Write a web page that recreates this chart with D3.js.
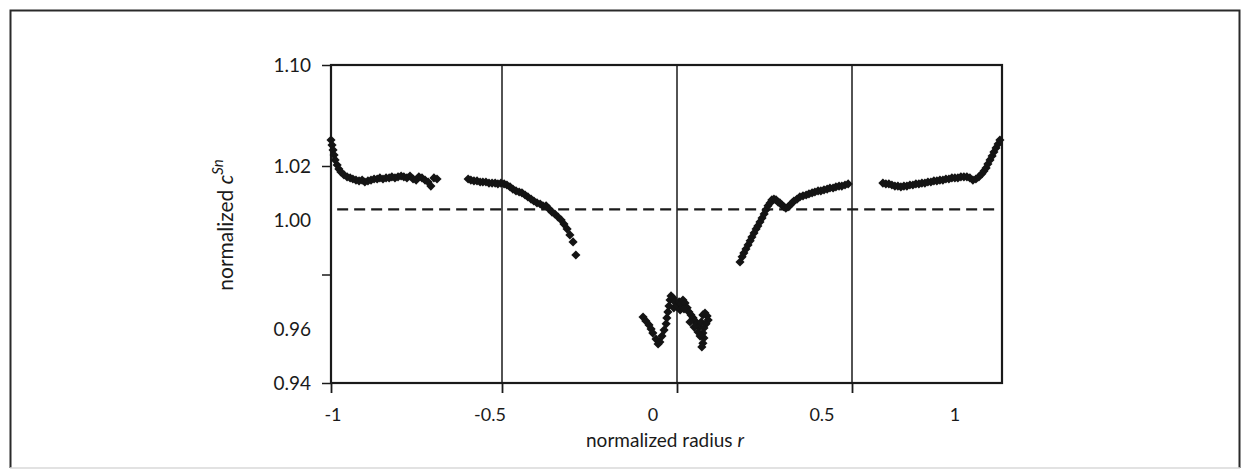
<!DOCTYPE html>
<html><head><meta charset="utf-8">
<script src="https://cdn.jsdelivr.net/npm/d3@7"></script>
<style>
body{margin:0;background:#fff;}
text{font-family:Lato,"Open Sans",sans-serif;fill:#1a1a1a;}
</style>
</head><body>
<svg id="chart" width="1248" height="474"></svg>
<script>
// ---- data ----
const xTicks = [-1, -0.5, 0, 0.5, 1];
const xTickLabels = ["-1", "-0.5", "0", "0.5", "1"];
const xGridValues = [-0.5, 0, 0.5];
const yTickMarks = [0.94, 0.98, 1.02, 1.10];
const yTickLabels = [0.94, 0.96, 1.00, 1.02, 1.10];
const yLabelText = ["0.94", "0.96", "1.00", "1.02", "1.10"];
const refValue = 1.004;
const refExtent = [-0.982, 0.993];

const r1 = [-1.000,-0.997,-0.994,-0.991,-0.988,-0.982,-0.977,-0.971,-0.962,-0.953,-0.944,-0.936,-0.927,-0.918,-0.909,-0.901,-0.892,-0.883,-0.874,-0.865,-0.857,-0.848,-0.839,-0.830,-0.822,-0.813,-0.804,-0.795,-0.787,-0.778,-0.769,-0.760,-0.751,-0.743,-0.734,-0.725,-0.716,-0.708,-0.699,-0.690];
const c1 = [1.0406,1.0366,1.0327,1.0287,1.0248,1.0208,1.0189,1.0178,1.0167,1.0160,1.0156,1.0152,1.0148,1.0145,1.0148,1.0141,1.0145,1.0148,1.0152,1.0152,1.0156,1.0152,1.0156,1.0156,1.0160,1.0156,1.0160,1.0163,1.0160,1.0156,1.0163,1.0152,1.0148,1.0160,1.0156,1.0148,1.0141,1.0126,1.0156,1.0152];

const r2 = [-0.599,-0.591,-0.582,-0.573,-0.564,-0.556,-0.547,-0.538,-0.529,-0.520,-0.512,-0.503,-0.494,-0.486,-0.477,-0.469,-0.460,-0.451,-0.443,-0.434,-0.426,-0.417,-0.409,-0.400,-0.391,-0.383,-0.374,-0.366,-0.357,-0.349,-0.340,-0.331,-0.323,-0.314,-0.306,-0.297,-0.289];
const c2 = [1.0152,1.0148,1.0145,1.0145,1.0141,1.0141,1.0141,1.0137,1.0137,1.0137,1.0134,1.0137,1.0134,1.0130,1.0123,1.0115,1.0108,1.0104,1.0101,1.0093,1.0086,1.0078,1.0071,1.0064,1.0060,1.0053,1.0053,1.0042,1.0030,1.0023,1.0012,1.0001,0.9986,0.9968,0.9946,0.9920,0.9872];

const r3 = [-0.097,-0.089,-0.080,-0.074,-0.069,-0.060,-0.054,-0.049,-0.043,-0.037,-0.031,-0.029,-0.026,-0.023,-0.020,-0.017,-0.011,-0.006,-0.009,0.000,0.006,0.011,0.017,0.023,0.029,0.034,0.040,0.046,0.051,0.057,0.063,0.069,0.074,0.080,0.086,0.089,0.083,0.077,0.074,0.077,0.074,0.071,0.037,0.049,0.060,0.066,0.009,0.020];
const c3 = [0.9643,0.9629,0.9614,0.9599,0.9584,0.9562,0.9544,0.9551,0.9573,0.9595,0.9618,0.9640,0.9662,0.9684,0.9706,0.9721,0.9713,0.9699,0.9677,0.9684,0.9699,0.9691,0.9706,0.9695,0.9677,0.9662,0.9651,0.9640,0.9629,0.9618,0.9606,0.9625,0.9651,0.9658,0.9647,0.9632,0.9618,0.9603,0.9584,0.9566,0.9547,0.9533,0.9625,0.9606,0.9588,0.9573,0.9669,0.9673];

const r4 = [0.180,0.186,0.191,0.197,0.203,0.209,0.214,0.220,0.226,0.231,0.237,0.243,0.249,0.254,0.260,0.266,0.271,0.277,0.283,0.289,0.294,0.300,0.306,0.311,0.317,0.323,0.329,0.334,0.343,0.351,0.360,0.369,0.377,0.386,0.394,0.403,0.411,0.420,0.429,0.437,0.446,0.454,0.463,0.471,0.480,0.489];
const c4 = [0.9846,0.9865,0.9879,0.9894,0.9909,0.9924,0.9938,0.9953,0.9968,0.9979,0.9994,1.0008,1.0023,1.0038,1.0053,1.0064,1.0075,1.0078,1.0075,1.0067,1.0064,1.0056,1.0049,1.0045,1.0049,1.0056,1.0064,1.0071,1.0078,1.0086,1.0090,1.0093,1.0097,1.0101,1.0104,1.0108,1.0108,1.0112,1.0115,1.0119,1.0119,1.0123,1.0126,1.0126,1.0130,1.0134];

const r5 = [0.603,0.613,0.623,0.633,0.643,0.653,0.663,0.673,0.683,0.693,0.703,0.713,0.723,0.733,0.743,0.753,0.763,0.773,0.783,0.793,0.803,0.813,0.823,0.833,0.843,0.853,0.863,0.873,0.883,0.893,0.903,0.913,0.923,0.933,0.940,0.947,0.953,0.960,0.967,0.973,0.980,0.987,0.993];
const c5 = [1.0137,1.0134,1.0134,1.0130,1.0126,1.0126,1.0123,1.0126,1.0126,1.0130,1.0130,1.0134,1.0134,1.0137,1.0137,1.0141,1.0141,1.0145,1.0145,1.0148,1.0148,1.0152,1.0152,1.0156,1.0156,1.0156,1.0160,1.0160,1.0160,1.0156,1.0148,1.0152,1.0160,1.0171,1.0182,1.0193,1.0216,1.0248,1.0279,1.0311,1.0343,1.0374,1.0406];

// ---- layout ----
const svg = d3.select("#chart");
const plotL = 331, plotR = 1002, plotT = 65, plotB = 383;
const ink = "#1a1a1a";

const x = d3.scaleLinear().domain(xTicks).range([plotL, 502, 677, 852, plotR]);
const xLabelPos = d3.scaleLinear().domain(xTicks).range([333, 490, 653, 822, 955]);
const y = d3.scaleLinear().domain([0.94, 1.02, 1.10]).range([plotB, 166, plotT]);

// outer frame
svg.append("path")
  .attr("d", `M10.5,468 L10.5,10.5 L1239.5,10.5 L1239.5,468`)
  .attr("fill", "none").attr("stroke", "#2a2a2a").attr("stroke-width", 2);
svg.append("line").attr("x1", 10).attr("x2", 1240).attr("y1", 468).attr("y2", 468)
  .attr("stroke", "#d8d8d8").attr("stroke-width", 1.5);

// gridlines
svg.append("g").selectAll("line").data(xGridValues).join("line")
  .attr("x1", d => x(d)).attr("x2", d => x(d))
  .attr("y1", plotT).attr("y2", plotB)
  .attr("stroke", ink).attr("stroke-width", 1.5);

// plot frame
svg.append("rect").attr("x", plotL).attr("y", plotT)
  .attr("width", plotR - plotL).attr("height", plotB - plotT)
  .attr("fill", "none").attr("stroke", ink).attr("stroke-width", 2.2);

// axes (tick marks only)
const yAxis = svg.append("g").attr("transform", `translate(${plotL},0)`)
  .call(d3.axisLeft(y).tickValues(yTickMarks).tickSize(9).tickFormat(""));
yAxis.select(".domain").remove();
yAxis.selectAll("line").attr("stroke", ink).attr("stroke-width", 1.5);

const xAxis = svg.append("g").attr("transform", `translate(0,${plotB})`)
  .call(d3.axisBottom(x).tickValues(xTicks.slice(0, 4)).tickSize(10).tickFormat(""));
xAxis.select(".domain").remove();
xAxis.selectAll("line").attr("stroke", ink).attr("stroke-width", 1.8);

// tick labels
svg.append("g").selectAll("text").data(yTickLabels).join("text")
  .attr("x", 311).attr("y", d => y(d)).attr("dy", "0.36em")
  .attr("text-anchor", "end").attr("font-size", 19)
  .text((d, i) => yLabelText[i]);

svg.append("g").selectAll("text").data(xTicks).join("text")
  .attr("x", d => xLabelPos(d)).attr("y", 421)
  .attr("text-anchor", "middle").attr("font-size", 18)
  .text((d, i) => xTickLabels[i]);

// reference dashed line
svg.append("line")
  .attr("x1", x(refExtent[0])).attr("x2", x(refExtent[1]))
  .attr("y1", y(refValue)).attr("y2", y(refValue))
  .attr("stroke", ink).attr("stroke-width", 2.4).attr("stroke-dasharray", "11,6");

// data points
const series = [[r1, c1], [r2, c2], [r3, c3], [r4, c4], [r5, c5]];
const pts = series.flatMap(([rs, cs]) => rs.map((r, i) => ({ r, c: cs[i] })));
const sym = d3.symbol().type(d3.symbolSquare).size(42);
svg.append("g").selectAll("path").data(pts).join("path")
  .attr("d", sym)
  .attr("transform", d => `translate(${x(d.r)},${y(d.c)}) rotate(45)`)
  .attr("fill", "#141414");

// axis titles
const xt = svg.append("text").attr("x", 665).attr("y", 447)
  .attr("text-anchor", "middle").attr("font-size", 19);
xt.append("tspan").text("normalized radius ");
xt.append("tspan").attr("font-style", "italic").text("r");

const yt = svg.append("text").attr("transform", "translate(233,225) rotate(-90)")
  .attr("text-anchor", "middle").attr("font-size", 21);
yt.append("tspan").text("normalized ");
yt.append("tspan").attr("font-style", "italic").text("c");
yt.append("tspan").attr("font-style", "italic").attr("font-size", 15)
  .attr("dy", "-0.7em").text("Sn");
</script>
</body></html>
